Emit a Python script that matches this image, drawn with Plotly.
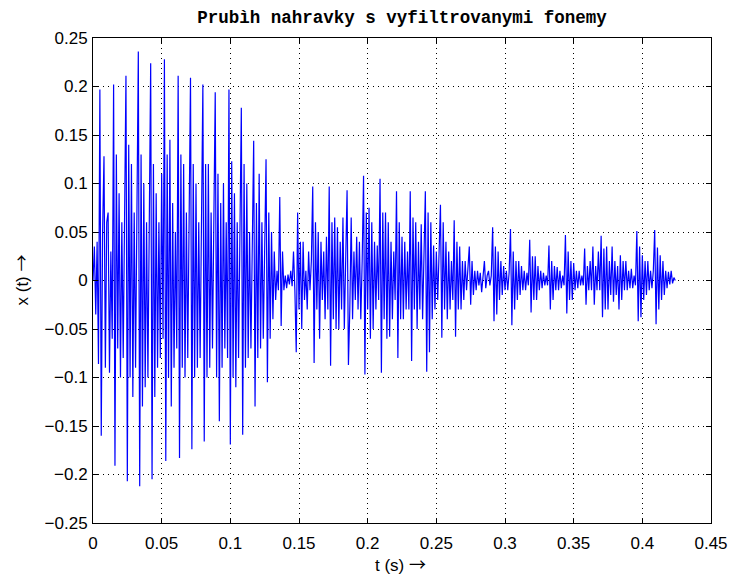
import numpy as np
import plotly.graph_objects as go

fs = 1000  # samples per second of the re-sampled trace

# waveform samples (one row ~ one pitch period)
loud_part = [
    0.0, 0.035, -0.035, 0.04, -0.086,
    0.197, -0.16, 0.05, 0.128, -0.09, 0.06, 0.07, -0.095, 0.03, -0.06,
    0.202, -0.191, 0.13, -0.07, 0.09, -0.10, 0.06, -0.08, 0.04,
    0.211, -0.207, 0.14, -0.10, 0.12, -0.12, 0.07, -0.09, 0.05,
    0.236, -0.212, 0.13, -0.13, 0.10, -0.11, 0.06, -0.10, 0.04,
    0.224, -0.205, 0.12, -0.12, 0.09, -0.09, 0.06, -0.08, 0.11, -0.06,
    0.228, -0.186, 0.13, -0.10, 0.145, -0.13, 0.08, -0.09, 0.05, -0.07,
    0.211, -0.183, 0.13, -0.09, 0.12, -0.10, 0.07, -0.08, 0.05,
    0.209, -0.174, 0.12, -0.10, 0.10, -0.09, 0.06, -0.08, 0.04,
    0.202, -0.166, 0.12, -0.10, 0.12, -0.09, 0.07, -0.07, 0.05,
    0.194, -0.10, 0.11, -0.145, 0.08, -0.09, 0.10, -0.07, 0.06, -0.08,
    0.197, -0.169, 0.123, -0.10, 0.09, -0.11, 0.06, -0.08, 0.04,
    0.178, -0.159, 0.12, -0.09, 0.10, -0.08, 0.05, -0.07, 0.03,
    0.144, -0.13, 0.08, -0.08, 0.11, -0.07, 0.06, -0.06, 0.04,
    0.125, -0.105, 0.07, -0.06, 0.05, -0.04, 0.03, -0.02, 0.01, -0.01,
    0.086, -0.047, 0.03, -0.01, 0.005, -0.008, 0.006, -0.004, 0.01, -0.006, 0.03, -0.01,
]
middle_part = [
    -0.074, 0.07, -0.03, 0.04, -0.05, 0.04, -0.02, 0.01, -0.03, 0.03, -0.01, 0.02,
    0.097, -0.085, 0.06, -0.03, 0.05, -0.06, 0.04, -0.02, 0.03, -0.04, 0.045, -0.03,
    0.097, -0.088, 0.06, -0.04, 0.065, -0.05, 0.055, -0.05, 0.04, -0.03, 0.065, -0.05, 0.03,
    0.093, -0.087, -0.03, 0.065, -0.04, 0.03, -0.02, 0.045, -0.03, 0.04, -0.04, 0.02,
    0.108, -0.097, 0.07, -0.03, 0.075, -0.06, 0.06, -0.05, 0.04, -0.03, 0.036, -0.02,
    0.105, -0.095, 0.07, -0.04, 0.07, -0.06, 0.06, -0.058, 0.04, -0.04, 0.03, -0.02,
    0.092, -0.08, 0.06, -0.04, 0.045, -0.04, 0.04, -0.03, 0.03, -0.03,
    0.092, -0.083, 0.065, -0.03, 0.06, -0.05, 0.04, -0.03, 0.058, -0.04, 0.03,
    0.092, -0.094, 0.07, -0.074, 0.06, -0.04, 0.036, -0.03, 0.03, -0.02, 0.02,
    0.078, -0.059, 0.06, -0.03, 0.04, -0.04, 0.03, -0.03, 0.02, -0.02,
    0.062, -0.058, 0.04, -0.03, 0.035, -0.03, 0.02, -0.02, 0.02, -0.01, 0.02,
    0.035, -0.025, 0.02, -0.015, 0.01, -0.01, 0.01, -0.005, 0.008, -0.012, 0.005, 0.02, -0.008, 0.005, 0.01, -0.005, 0.005,
]
quiet_part = [
    0.055, -0.042, 0.035, -0.035, 0.03, -0.02, 0.02, -0.015, 0.015, -0.01, 0.01, -0.01, 0.008,
    0.053, -0.046, 0.03, -0.03, 0.02, -0.02, 0.02, -0.015, 0.015, -0.01, 0.01, -0.01, 0.008, -0.005,
    0.042, -0.033, 0.025, -0.02, 0.025, -0.02, 0.015, -0.01, 0.01, -0.008, 0.008, -0.005, 0.005, -0.005,
    0.036, -0.03, 0.02, -0.02, 0.015, -0.01, 0.014, -0.01, 0.01, -0.008, 0.005, -0.005,
    0.047, -0.034, 0.03, -0.02, 0.02, -0.02, 0.018, -0.01, 0.01, -0.008, 0.01, -0.005, 0.005, -0.005,
    0.033, -0.025, 0.015, -0.01, 0.02, -0.01, 0.035, -0.025, 0.015, -0.01, 0.03, -0.01,
    0.046, -0.038, 0.033, -0.03, 0.035, -0.03, 0.02, -0.015, 0.035, -0.022, 0.02, -0.015, 0.015,
    -0.03, 0.026, -0.02, 0.02, -0.01, 0.02, -0.01, 0.01, -0.008, 0.012, -0.008, 0.005, -0.005,
    0.051, -0.042, 0.035, -0.038, 0.026, -0.02, 0.02, -0.015, 0.02, -0.01, 0.01, -0.008, 0.01,
    0.052, -0.045, 0.034, -0.03, 0.026, -0.02, 0.02, -0.015, 0.01, -0.008, 0.009, -0.004, 0.01, -0.003, 0.003, 0.0,
]

x_vals = loud_part + middle_part + quiet_part
t_vals = np.arange(len(x_vals)) / fs

x_ticks = [0, 0.05, 0.1, 0.15, 0.2, 0.25, 0.3, 0.35, 0.4, 0.45]
y_ticks = [-0.25, -0.2, -0.15, -0.1, -0.05, 0, 0.05, 0.1, 0.15, 0.2, 0.25]

arrow = '<span style="font-family:Noto Sans CJK SC">→</span>'
title_text = "Prubìh nahravky s vyfiltrovanymi fonemy"
x_label = "t (s) " + arrow
y_label = "x (t) " + arrow

fig = go.Figure(go.Scatter(x=t_vals, y=x_vals, mode="lines",
                           line=dict(color="#0000ff", width=1.2), showlegend=False))

tick_font = dict(family="Liberation Sans, Arial, sans-serif", size=17, color="black")
axis_common = dict(showline=True, linecolor="black", linewidth=1, mirror="ticks",
                   ticks="inside", ticklen=5, tickcolor="black", tickwidth=1,
                   showgrid=True, gridcolor="black", gridwidth=1, griddash="1px,4px",
                   zeroline=False, tickfont=tick_font, tickmode="array", automargin=False)

W, H = 732, 575
ml, mr, mt, mb = 93, 21, 38, 52
pw, ph = W - ml - mr, H - mt - mb

fig.update_layout(
    width=W, height=H,
    paper_bgcolor="white", plot_bgcolor="white",
    margin=dict(l=ml, r=mr, t=mt, b=mb),
    title=dict(text=title_text, x=0.5, xref="paper", y=1 - 17 / H, yref="container",
               xanchor="center", yanchor="middle",
               font=dict(family="Liberation Mono, Courier New, monospace", size=17.5,
                         color="black", weight="bold")),
    xaxis=dict(range=[0, 0.45], tickvals=x_ticks, ticktext=[f"{v:g}" for v in x_ticks],
               ticklabelstandoff=5, **axis_common),
    yaxis=dict(range=[-0.25, 0.25], tickvals=y_ticks,
               ticktext=[f"{v:g}".replace("-", "−") for v in y_ticks],
               ticklabelstandoff=1, **axis_common),
    annotations=[
        dict(text=x_label, xref="paper", yref="paper", x=(400 - ml) / pw,
             y=-(563 - (H - mb)) / ph, xanchor="center", yanchor="middle",
             showarrow=False, font=tick_font),
        dict(text=y_label, xref="paper", yref="paper", x=-(ml - 20) / pw, y=0.5,
             xanchor="center", yanchor="middle", textangle=-90,
             showarrow=False, font=tick_font),
    ],
)

fig.write_html("out.html")
